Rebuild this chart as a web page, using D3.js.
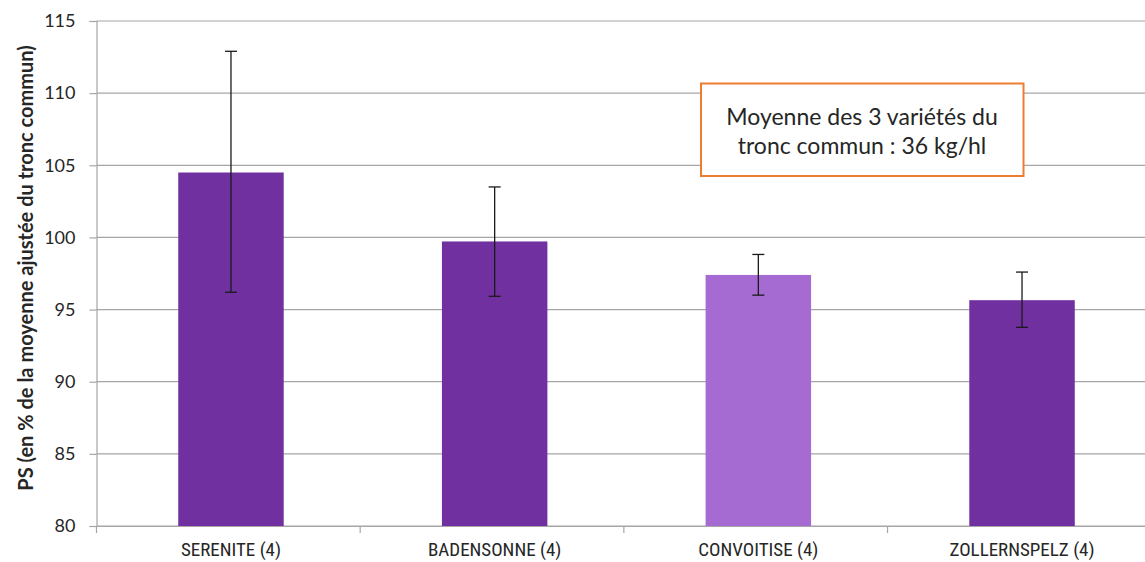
<!DOCTYPE html>
<html><head><meta charset="utf-8">
<script src="https://cdn.jsdelivr.net/npm/d3@7"></script>
<style>body{margin:0;background:#fff}svg{display:block}</style>
</head><body>
<svg id="c" width="1145" height="562"></svg>
<script>
const categories = ["SERENITE (4)", "BADENSONNE (4)", "CONVOITISE (4)", "ZOLLERNSPELZ (4)"];
const values = [104.5, 99.72, 97.4, 95.65];
const errLow = [96.2, 95.92, 96.0, 93.77];
const errHigh = [112.9, 103.5, 98.82, 97.6];
const barColors = ["#7030A0", "#7030A0", "#A66BD3", "#7030A0"];
const yTicks = [80, 85, 90, 95, 100, 105, 110, 115];
const yTitle = "PS (en % de la moyenne ajustée du tronc commun)";
const noteLines = ["Moyenne des 3 variétés du", "tronc commun : 36 kg/hl"];

const svg = d3.select("#c");
const m = {left: 96.5, right: 1156.5, top: 21, bottom: 526};
const x = d3.scaleBand().domain(categories).range([m.left, m.right]).paddingInner(0.6).paddingOuter(0.31);
const y = d3.scaleLinear().domain([80, 115]).range([m.bottom, m.top]);

// gridlines
svg.append("g").selectAll("line").data(yTicks).join("line")
  .attr("x1", m.left).attr("x2", m.right)
  .attr("y1", d => y(d)).attr("y2", d => y(d))
  .attr("stroke", "#A6A6A6").attr("stroke-width", 1.2);

// y axis
const ya = svg.append("g").attr("transform", `translate(${m.left},0)`)
  .call(d3.axisLeft(y).tickValues(yTicks).tickSize(7).tickPadding(14));
ya.select(".domain").attr("stroke", "#A6A6A6").attr("stroke-width", 1.2);
ya.selectAll(".tick line").attr("stroke", "#A6A6A6").attr("stroke-width", 1.2);
ya.selectAll("text").attr("font-family", "Lato, 'Open Sans', sans-serif").attr("font-size", 18).attr("fill", "#262626");

// bars
svg.append("g").selectAll("rect").data(categories).join("rect")
  .attr("x", d => x(d)).attr("width", x.bandwidth())
  .attr("y", (d, i) => y(values[i])).attr("height", (d, i) => y(80) - y(values[i]))
  .attr("fill", (d, i) => barColors[i]);

// x axis
const xa = svg.append("g").attr("transform", `translate(0,${m.bottom})`)
  .call(d3.axisBottom(x).tickSize(0).tickPadding(17));
xa.select(".domain").attr("stroke", "#A6A6A6").attr("stroke-width", 1.2);
xa.selectAll("text").attr("font-family", "'Liberation Sans Narrow', 'Roboto Condensed', Lato, sans-serif")
  .attr("font-size", 19).attr("fill", "#262626");
// category separator ticks
const sep = d3.range(categories.length + 1).map(i => m.left + x.step() * i);
svg.append("g").selectAll("line").data(sep).join("line")
  .attr("x1", d => d).attr("x2", d => d).attr("y1", m.bottom).attr("y2", m.bottom + 7)
  .attr("stroke", "#A6A6A6").attr("stroke-width", 1.2);

// error bars
const eb = svg.append("g").attr("stroke", "#1a1a1a").attr("stroke-width", 1.3);
categories.forEach((c, i) => {
  const cx = x(c) + x.bandwidth() / 2;
  eb.append("line").attr("x1", cx).attr("x2", cx).attr("y1", y(errHigh[i])).attr("y2", y(errLow[i]));
  eb.append("line").attr("x1", cx - 6).attr("x2", cx + 6).attr("y1", y(errHigh[i])).attr("y2", y(errHigh[i]));
  eb.append("line").attr("x1", cx - 6).attr("x2", cx + 6).attr("y1", y(errLow[i])).attr("y2", y(errLow[i]));
});

// y title
svg.append("text").attr("transform", `translate(33,268) rotate(-90)`)
  .attr("text-anchor", "middle").attr("font-family", "Lato, 'Open Sans', sans-serif")
  .attr("font-weight", "bold").attr("font-size", 20).attr("fill", "#262626").text(yTitle);

// note box
svg.append("rect").attr("x", 701).attr("y", 83.5).attr("width", 322.5).attr("height", 92.5)
  .attr("fill", "#fff").attr("stroke", "#ED7D31").attr("stroke-width", 2);
svg.append("g").selectAll("text").data(noteLines).join("text")
  .attr("x", 862).attr("y", (d, i) => 124.5 + i * 29).attr("text-anchor", "middle")
  .attr("font-family", "Lato, 'Open Sans', sans-serif").attr("font-size", 23).attr("fill", "#262626")
  .text(d => d);
</script>
</body></html>
